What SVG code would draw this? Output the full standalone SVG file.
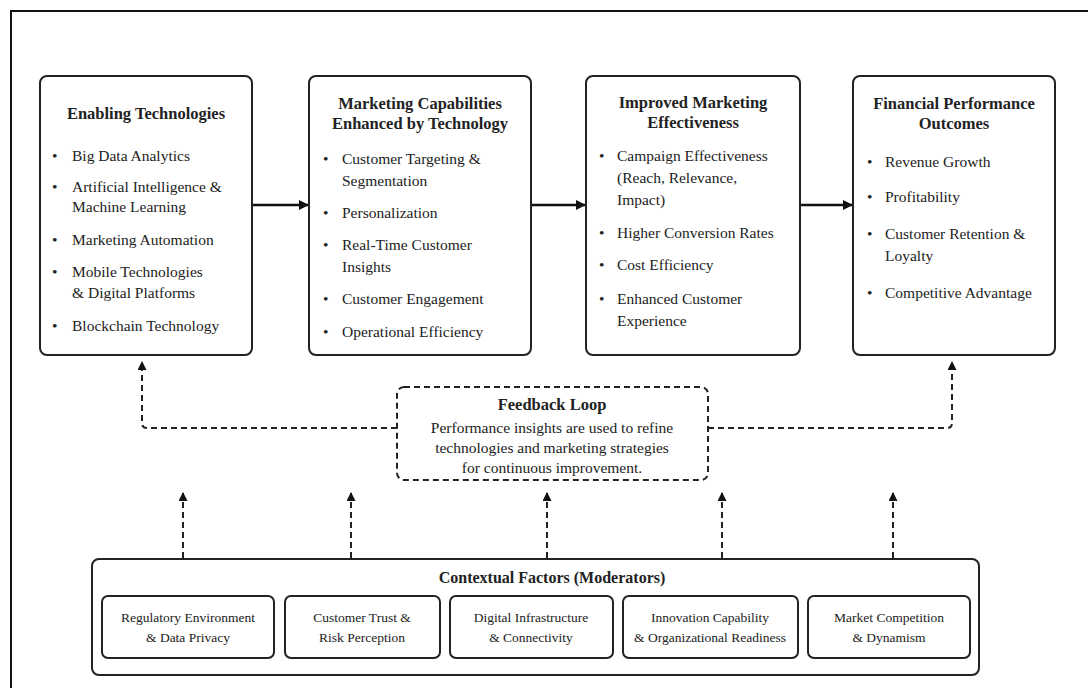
<svg xmlns="http://www.w3.org/2000/svg" width="1088" height="688" viewBox="0 0 1088 688">
<defs>
<style>
.box{fill:#fff;stroke:#222;stroke-width:2}
.dbox{fill:#fff;stroke:#222;stroke-width:2;stroke-dasharray:6 4}
.t{font-family:"Liberation Serif","Times New Roman",serif;fill:#222}
.h{font-size:16.5px;font-weight:bold;text-anchor:middle}
.b{font-size:15.5px}
.m{text-anchor:middle}
.s{font-size:13.5px;text-anchor:middle}
.sol{stroke:#111;stroke-width:2.5;fill:none}
.dash{stroke:#222;stroke-width:2;fill:none;stroke-dasharray:6 4}
</style>
<marker id="ah" markerWidth="10" markerHeight="10" refX="9" refY="5" orient="auto" markerUnits="userSpaceOnUse" viewBox="0 0 10 10">
<path d="M0,0 L10,5 L0,10 z" fill="#111"/>
</marker>
<marker id="ahs" markerWidth="9" markerHeight="9" refX="8" refY="4.5" orient="auto" markerUnits="userSpaceOnUse" viewBox="0 0 9 9">
<path d="M0,0 L9,4.5 L0,9 z" fill="#111"/>
</marker>
</defs>
<rect x="0" y="0" width="1088" height="688" fill="#fff"/>
<rect x="11" y="11" width="1100" height="700" fill="none" stroke="#111" stroke-width="2"/>

<g id="connectors">
<line class="sol" x1="252" y1="205" x2="308" y2="205" marker-end="url(#ah)"/>
<line class="sol" x1="531" y1="205" x2="585" y2="205" marker-end="url(#ah)"/>
<line class="sol" x1="800" y1="205" x2="852" y2="205" marker-end="url(#ah)"/>
<path class="dash" d="M397,428 H147 Q142,428 142,423 V362" marker-end="url(#ahs)"/>
<path class="dash" d="M708,428 H947 Q952,428 952,423 V362" marker-end="url(#ahs)"/>
<line class="dash" x1="183" y1="558" x2="183" y2="493" marker-end="url(#ahs)"/>
<line class="dash" x1="351" y1="558" x2="351" y2="493" marker-end="url(#ahs)"/>
<line class="dash" x1="547" y1="558" x2="547" y2="493" marker-end="url(#ahs)"/>
<line class="dash" x1="722" y1="558" x2="722" y2="493" marker-end="url(#ahs)"/>
<line class="dash" x1="893" y1="558" x2="893" y2="493" marker-end="url(#ahs)"/>
</g>

<g id="enabling">
<rect class="box" x="40" y="76" width="212" height="279" rx="7"/>
<text class="t h" x="146" y="119">Enabling Technologies</text>
<g class="t b">
<text x="52" y="161">•</text><text x="72" y="161">Big Data Analytics</text>
<text x="52" y="192">•</text><text x="72" y="192">Artificial Intelligence &amp;</text>
<text x="72" y="212">Machine Learning</text>
<text x="52" y="245">•</text><text x="72" y="245">Marketing Automation</text>
<text x="52" y="277">•</text><text x="72" y="277">Mobile Technologies</text>
<text x="72" y="298">&amp; Digital Platforms</text>
<text x="52" y="331">•</text><text x="72" y="331">Blockchain Technology</text>
</g>
</g>

<g id="capabilities">
<rect class="box" x="309" y="76" width="222" height="279" rx="7"/>
<text class="t h" x="420" y="109">Marketing Capabilities</text>
<text class="t h" x="420" y="129">Enhanced by Technology</text>
<g class="t b">
<text x="323" y="164">•</text><text x="342" y="164">Customer Targeting &amp;</text>
<text x="342" y="186">Segmentation</text>
<text x="323" y="218">•</text><text x="342" y="218">Personalization</text>
<text x="323" y="250">•</text><text x="342" y="250">Real-Time Customer</text>
<text x="342" y="272">Insights</text>
<text x="323" y="304">•</text><text x="342" y="304">Customer Engagement</text>
<text x="323" y="337">•</text><text x="342" y="337">Operational Efficiency</text>
</g>
</g>

<g id="effectiveness">
<rect class="box" x="586" y="76" width="214" height="279" rx="7"/>
<text class="t h" x="693" y="108">Improved Marketing</text>
<text class="t h" x="693" y="128">Effectiveness</text>
<g class="t b">
<text x="599" y="161">•</text><text x="617" y="161">Campaign Effectiveness</text>
<text x="617" y="183">(Reach, Relevance,</text>
<text x="617" y="205">Impact)</text>
<text x="599" y="238">•</text><text x="617" y="238">Higher Conversion Rates</text>
<text x="599" y="270">•</text><text x="617" y="270">Cost Efficiency</text>
<text x="599" y="304">•</text><text x="617" y="304">Enhanced Customer</text>
<text x="617" y="326">Experience</text>
</g>
</g>

<g id="financial">
<rect class="box" x="853" y="76" width="202" height="279" rx="7"/>
<text class="t h" x="954" y="109">Financial Performance</text>
<text class="t h" x="954" y="129">Outcomes</text>
<g class="t b">
<text x="867" y="167">•</text><text x="885" y="167">Revenue Growth</text>
<text x="867" y="202">•</text><text x="885" y="202">Profitability</text>
<text x="867" y="239">•</text><text x="885" y="239">Customer Retention &amp;</text>
<text x="885" y="261">Loyalty</text>
<text x="867" y="298">•</text><text x="885" y="298">Competitive Advantage</text>
</g>
</g>

<g id="feedback">
<rect class="dbox" x="397" y="387" width="311" height="93" rx="7"/>
<text class="t h" x="552" y="410">Feedback Loop</text>
<text class="t b m" x="552" y="433">Performance insights are used to refine</text>
<text class="t b m" x="552" y="453">technologies and marketing strategies</text>
<text class="t b m" x="552" y="473">for continuous improvement.</text>
</g>

<g id="contextual">
<rect class="box" x="92" y="559" width="887" height="116" rx="7"/>
<text class="t m" x="552" y="583" style="font-size:16px;font-weight:bold">Contextual Factors (Moderators)</text>
<g id="f1">
<rect class="box" x="102" y="596" width="172" height="62" rx="6"/>
<text class="t s" x="188" y="622">Regulatory Environment</text>
<text class="t s" x="188" y="642">&amp; Data Privacy</text>
</g>
<g id="f2">
<rect class="box" x="285" y="596" width="155" height="62" rx="6"/>
<text class="t s" x="362" y="622">Customer Trust &amp;</text>
<text class="t s" x="362" y="642">Risk Perception</text>
</g>
<g id="f3">
<rect class="box" x="450" y="596" width="163" height="62" rx="6"/>
<text class="t s" x="531" y="622">Digital Infrastructure</text>
<text class="t s" x="531" y="642">&amp; Connectivity</text>
</g>
<g id="f4">
<rect class="box" x="623" y="596" width="175" height="62" rx="6"/>
<text class="t s" x="710" y="622">Innovation Capability</text>
<text class="t s" x="710" y="642">&amp; Organizational Readiness</text>
</g>
<g id="f5">
<rect class="box" x="808" y="596" width="162" height="62" rx="6"/>
<text class="t s" x="889" y="622">Market Competition</text>
<text class="t s" x="889" y="642">&amp; Dynamism</text>
</g>
</g>
</svg>
